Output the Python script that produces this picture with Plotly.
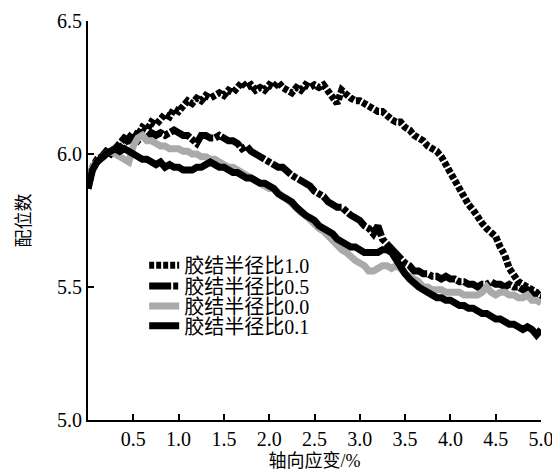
import plotly.graph_objects as go

strain = [0.00, 0.05, 0.10, 0.15, 0.20, 0.25, 0.30, 0.35, 0.40, 0.45,
          0.50, 0.55, 0.60, 0.65, 0.70, 0.75, 0.80, 0.85, 0.90, 0.95,
          1.00, 1.05, 1.10, 1.15, 1.20, 1.25, 1.30, 1.35, 1.40, 1.45,
          1.50, 1.55, 1.60, 1.65, 1.70, 1.75, 1.80, 1.85, 1.90, 1.95,
          2.00, 2.05, 2.10, 2.15, 2.20, 2.25, 2.30, 2.35, 2.40, 2.45,
          2.50, 2.55, 2.60, 2.65, 2.70, 2.75, 2.80, 2.85, 2.90, 2.95,
          3.00, 3.05, 3.10, 3.15, 3.20, 3.25, 3.30, 3.35, 3.40, 3.45,
          3.50, 3.55, 3.60, 3.65, 3.70, 3.75, 3.80, 3.85, 3.90, 3.95,
          4.00, 4.05, 4.10, 4.15, 4.20, 4.25, 4.30, 4.35, 4.40, 4.45,
          4.50, 4.55, 4.60, 4.65, 4.70, 4.75, 4.80, 4.85, 4.90, 4.95,
          5.00]

ratio_1_0 = [5.87, 5.95, 5.97, 5.99, 6.00, 6.01, 6.02, 6.02, 6.04, 6.05,
             6.08, 6.07, 6.10, 6.09, 6.12, 6.11, 6.13, 6.15, 6.14, 6.17,
             6.16, 6.18, 6.20, 6.19, 6.21, 6.20, 6.22, 6.21, 6.22, 6.23,
             6.22, 6.24, 6.23, 6.25, 6.27, 6.25, 6.26, 6.24, 6.25, 6.24,
             6.26, 6.25, 6.27, 6.25, 6.24, 6.23, 6.25, 6.24, 6.26, 6.25,
             6.26, 6.25, 6.26, 6.24, 6.22, 6.19, 6.24, 6.22, 6.21, 6.20,
             6.20, 6.19, 6.18, 6.17, 6.16, 6.16, 6.14, 6.13, 6.12, 6.12,
             6.10, 6.09, 6.07, 6.06, 6.05, 6.03, 6.02, 6.01, 5.99, 5.96,
             5.93, 5.90, 5.86, 5.84, 5.81, 5.79, 5.76, 5.74, 5.72, 5.70,
             5.69, 5.65, 5.62, 5.57, 5.54, 5.52, 5.51, 5.50, 5.49, 5.48,
             5.46]

ratio_0_5 = [5.88, 5.95, 5.98, 5.99, 6.01, 6.00, 6.02, 6.04, 6.06, 6.05,
             6.06, 6.05, 6.07, 6.06, 6.08, 6.07, 6.08, 6.07, 6.08, 6.09,
             6.08, 6.07, 6.07, 6.05, 6.04, 6.07, 6.07, 6.06, 6.06, 6.07,
             6.06, 6.05, 6.05, 6.04, 6.02, 6.03, 6.01, 6.00, 5.99, 5.98,
             5.97, 5.96, 5.95, 5.95, 5.93, 5.92, 5.91, 5.90, 5.89, 5.88,
             5.86, 5.85, 5.84, 5.82, 5.81, 5.80, 5.80, 5.78, 5.77, 5.76,
             5.75, 5.73, 5.72, 5.70, 5.73, 5.68, 5.66, 5.64, 5.62, 5.60,
             5.59, 5.58, 5.56, 5.56, 5.55, 5.55, 5.54, 5.54, 5.53, 5.54,
             5.53, 5.53, 5.52, 5.52, 5.51, 5.51, 5.50, 5.51, 5.51, 5.52,
             5.51, 5.51, 5.50, 5.51, 5.50, 5.50, 5.49, 5.49, 5.47, 5.46,
             5.46]

ratio_0_0 = [5.88, 5.95, 5.97, 5.99, 6.00, 6.01, 6.00, 5.99, 5.98, 5.97,
             6.03, 6.06, 6.07, 6.05, 6.05, 6.04, 6.03, 6.03, 6.02, 6.02,
             6.02, 6.01, 6.01, 6.00, 6.00, 5.99, 5.99, 5.98, 5.98, 5.97,
             5.96, 5.95, 5.95, 5.94, 5.93, 5.92, 5.91, 5.90, 5.89, 5.88,
             5.87, 5.87, 5.85, 5.84, 5.83, 5.81, 5.80, 5.78, 5.77, 5.75,
             5.74, 5.72, 5.71, 5.69, 5.67, 5.66, 5.64, 5.63, 5.61, 5.60,
             5.59, 5.58, 5.56, 5.56, 5.57, 5.58, 5.58, 5.57, 5.58, 5.57,
             5.55, 5.54, 5.53, 5.52, 5.50, 5.50, 5.49, 5.49, 5.49, 5.48,
             5.48, 5.48, 5.48, 5.47, 5.47, 5.47, 5.47, 5.48, 5.50, 5.48,
             5.47, 5.48, 5.48, 5.47, 5.47, 5.46, 5.46, 5.47, 5.45, 5.45,
             5.44]

ratio_0_1 = [5.87, 5.94, 5.97, 5.99, 6.00, 6.01, 6.02, 6.01, 6.02, 6.01,
             6.00, 5.99, 5.98, 5.98, 5.97, 5.96, 5.97, 5.95, 5.96, 5.95,
             5.95, 5.94, 5.94, 5.94, 5.95, 5.95, 5.96, 5.97, 5.96, 5.95,
             5.95, 5.94, 5.93, 5.93, 5.92, 5.91, 5.91, 5.90, 5.89, 5.89,
             5.88, 5.87, 5.85, 5.84, 5.83, 5.82, 5.80, 5.78, 5.77, 5.76,
             5.75, 5.73, 5.72, 5.71, 5.70, 5.68, 5.67, 5.66, 5.65, 5.65,
             5.64, 5.63, 5.63, 5.63, 5.63, 5.64, 5.64, 5.63, 5.60, 5.58,
             5.55, 5.53, 5.51, 5.50, 5.49, 5.48, 5.47, 5.46, 5.46, 5.45,
             5.45, 5.44, 5.43, 5.43, 5.42, 5.42, 5.41, 5.40, 5.40, 5.39,
             5.38, 5.38, 5.37, 5.36, 5.36, 5.35, 5.34, 5.35, 5.34, 5.32,
             5.34]

series_names = ["胶结半径比1.0", "胶结半径比0.5", "胶结半径比0.0", "胶结半径比0.1"]
x_ticks = [0.5, 1.0, 1.5, 2.0, 2.5, 3.0, 3.5, 4.0, 4.5, 5.0]
y_ticks = [5.0, 5.5, 6.0, 6.5]

FONT = "Times New Roman, Liberation Serif, Noto Sans CJK SC, serif"

series = [
    (ratio_1_0, dict(color="#000000", width=7, dash="5px,2px"), "legend"),
    (ratio_0_5, dict(color="#000000", width=7, dash="22px,2px,5px,2px"), "legend2"),
    (ratio_0_0, dict(color="#aaaaaa", width=7), "legend3"),
    (ratio_0_1, dict(color="#000000", width=7), "legend4"),
]

fig = go.Figure()
for (vals, line, lg), name in zip(series, series_names):
    fig.add_trace(go.Scatter(x=strain, y=vals, mode="lines", name=name,
                             line=line, legend=lg))

# page body has an 8px default margin, so the figure is 8px smaller
legend_mid = [0.388, 0.336, 0.286, 0.236]
legend_common = dict(x=0.124, xanchor="left", yanchor="middle",
                     bgcolor="rgba(0,0,0,0)", font=dict(family=FONT, size=20, color="#000000"),
                     itemwidth=30)
fig.update_layout(
    width=552, height=465,
    margin=dict(l=80, r=19, t=13, b=53),
    paper_bgcolor="white", plot_bgcolor="white",
    font=dict(family=FONT, size=18, color="#000000"),
    showlegend=True,
    legend=dict(y=legend_mid[0], **legend_common),
    legend2=dict(y=legend_mid[1], **legend_common),
    legend3=dict(y=legend_mid[2], **legend_common),
    legend4=dict(y=legend_mid[3], **legend_common),
    xaxis=dict(range=[0, 5.0], tickvals=x_ticks, ticktext=[f"{v:.1f}" for v in x_ticks],
               showgrid=False, zeroline=False, showline=True, linecolor="#000000",
               linewidth=2, ticks="inside", ticklen=6, tickwidth=2, tickcolor="#000000",
               automargin=False, tickfont=dict(family=FONT, size=20),
               title=dict(text="轴向应变/%", standoff=5, font=dict(family=FONT, size=18))),
    yaxis=dict(range=[5.0, 6.5], tickvals=y_ticks, ticktext=[f"{v:.1f}" for v in y_ticks],
               showgrid=False, zeroline=False, showline=True, linecolor="#000000",
               linewidth=2, ticks="inside", ticklen=6, tickwidth=2, tickcolor="#000000",
               automargin=False, tickfont=dict(family=FONT, size=20),
               title=dict(text="配位数", standoff=22, font=dict(family=FONT, size=18))),
)

fig.write_html("out.html")
